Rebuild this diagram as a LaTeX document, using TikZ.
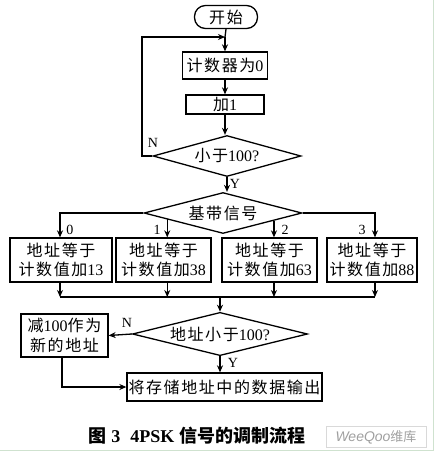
\documentclass[tikz,border=0pt]{standalone}
\usepackage{fontspec}
\setmainfont{Liberation Serif}
\newfontfamily\cjk[LetterSpace=10]{Noto Sans CJK SC}
\newfontfamily\cjkplain{Noto Sans CJK SC}
\newfontfamily\wmfont{Liberation Sans}
\usetikzlibrary{shapes.geometric,arrows.meta,calc}
\begin{document}
\begin{tikzpicture}[x=1pt,y=-1pt,line width=1.3pt,
  font=\fontsize{16}{19.5}\selectfont,
  box/.style={draw,rectangle,inner sep=0pt,align=center},
  term/.style={draw,rectangle,rounded corners=11pt,inner sep=0pt},
  dia/.style={draw,diamond,shape aspect=3.5,inner sep=0pt},
  arr/.style={-{Stealth[length=7pt,width=6pt]}},
  lab/.style={font=\fontsize{14}{14}\selectfont,inner sep=1pt}]
\useasboundingbox (0,0) rectangle (434,451);
\draw[line width=0.8pt,green!25!gray!30] (433,0) -- (433,450.5) -- (0,450.5);

% nodes
\node[term,minimum width=63pt,minimum height=23pt] (start) at (226,17) {\cjk 开始};
\node[box,minimum width=85pt,minimum height=27pt] (c0) at (225,65.5) {{\cjk 计数器为}0};
\node[box,minimum width=78pt,minimum height=19pt] (add) at (225,104.5) {{\cjk 加}1};
\node[dia,minimum width=148pt,minimum height=41pt] (d1) at (227,156) {{\cjk 小于}100?};
\node[dia,minimum width=158pt,minimum height=41pt] (d2) at (223,213) {\cjk 基带信号};
\node[box,minimum width=102pt,minimum height=44pt] (b0) at (61,260) {{\cjk 地址等于}\\{\cjk 计数值加}13};
\node[box,minimum width=95pt,minimum height=44pt] (b1) at (163.5,260) {{\cjk 地址等于}\\{\cjk 计数值加}38};
\node[box,minimum width=95pt,minimum height=44pt] (b2) at (269.5,260) {{\cjk 地址等于}\\{\cjk 计数值加}63};
\node[box,minimum width=90pt,minimum height=44pt] (b3) at (372,260) {{\cjk 地址等于}\\{\cjk 计数值加}88};
\node[dia,minimum width=175pt,minimum height=40pt] (d3) at (220,334) {{\cjk 地址小于}100?};
\node[box,minimum width=87pt,minimum height=43pt] (lb) at (64.5,335.5) {{\cjk 减}100{\cjk 作为}\\{\cjk 新的地址}};
\node[box,minimum width=195pt,minimum height=28pt] (out) at (224.5,387) {\cjk 将存储地址中的数据输出};

% coordinates
\coordinate (j) at (225,37);
\coordinate (lc1) at (142,156);
\coordinate (lc2) at (142,37);
\coordinate (p1) at ($(d2.west)!0.30!(d2.south)$);
\coordinate (p2) at ($(d2.east)!0.36!(d2.south)$);
\coordinate (m0) at (60,297);
\coordinate (m3) at (375,297);
\coordinate (mc) at (220,297);

% main line
\draw (start.south) -- (j);
\draw[arr] (j) -- (c0.north);
\draw[arr] (c0.south) -- (add.north);
\draw[arr] (add.south) -- (add.south |- d1.north);
\draw[arr] (d1.west) -- (lc1) -- (lc2) -- (j);
\node[lab] (ln) at (153,143) {N};
\draw[arr] (d1.south) -- (d1.south |- d2.north);
\node[lab] (ly1) at (235,184) {Y};

% branches
\draw[arr] (d2.west) -- (m0 |- d2.west) -- (m0 |- b0.north);
\draw[arr] (p1) -- (p1 |- b1.north);
\draw[arr] (p2) -- (p2 |- b2.north);
\draw[arr] (d2.east) -- (m3 |- d2.east) -- (m3 |- b3.north);
\node[lab] (l0) at (70,230) {0};
\node[lab] (l1) at (157,230) {1};
\node[lab] (l2) at (285,230) {2};
\node[lab] (l3) at (362,230) {3};

% merge
\draw[arr] (m0 |- b0.south) -- (m0);
\draw[arr] (p1 |- b1.south) -- (p1 |- m0);
\draw[arr] (p2 |- b2.south) -- (p2 |- m0);
\draw[arr] (m3 |- b3.south) -- (m3);
\draw (m0) -- (m3);
\draw[arr] (mc) -- (d3.north);

% last part
\draw[arr] (d3.west) -- (lb.east);
\node[lab] (ln2) at (127,323) {N};
\draw[arr] (d3.south) -- (d3.south |- out.north);
\node[lab] (ly2) at (233,363) {Y};
\draw[arr] (lb.south -| 62,0) -- (62,387) -- (out.west);

% caption
\node[inner sep=0pt,font=\fontsize{18}{18}\selectfont\bfseries] (cap) at (197,436)
  {{\cjkplain\bfseries 图} 3\hspace{10pt}4PSK {\cjkplain\bfseries 信号的调制流程}};
\node[draw=gray!30,line width=0.6pt,minimum width=100pt,minimum height=21pt,inner sep=0pt,text=gray!75]
  (wm) at (376,437) {{\wmfont\itshape\fontsize{14}{14}\selectfont WeeQoo}{\cjkplain\fontsize{13}{13}\selectfont 维库}};
\end{tikzpicture}
\end{document}
